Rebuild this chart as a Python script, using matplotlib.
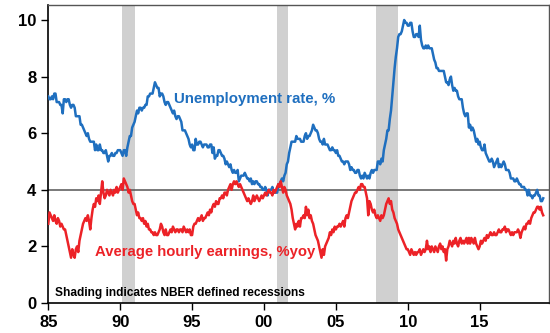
import numpy as np
import matplotlib
matplotlib.use("Agg")
import matplotlib.pyplot as plt

plt.rcParams["font.family"] = ["Liberation Sans", "DejaVu Sans"]

# ---------- DATA (monthly, Jan 1985 onwards) ----------
START_YEAR = 1985

unemployment = [
    7.3, 7.2, 7.2, 7.3, 7.2, 7.4, 7.4, 7.1, 7.1, 7.1, 7.0, 7.0,   # 1985
    6.7, 7.2, 7.2, 7.1, 7.2, 7.2, 7.0, 6.9, 7.0, 7.0, 6.9, 6.6,   # 1986
    6.6, 6.6, 6.6, 6.3, 6.3, 6.2, 6.1, 6.0, 5.9, 6.0, 5.8, 5.7,   # 1987
    5.7, 5.7, 5.7, 5.4, 5.6, 5.4, 5.4, 5.6, 5.4, 5.4, 5.3, 5.3,   # 1988
    5.4, 5.2, 5.0, 5.2, 5.2, 5.3, 5.2, 5.2, 5.3, 5.3, 5.4, 5.4,   # 1989
    5.4, 5.3, 5.2, 5.4, 5.4, 5.2, 5.5, 5.7, 5.9, 5.9, 6.2, 6.3,   # 1990
    6.4, 6.6, 6.8, 6.7, 6.9, 6.9, 6.8, 6.9, 6.9, 7.0, 7.0, 7.3,   # 1991
    7.3, 7.4, 7.4, 7.4, 7.6, 7.8, 7.7, 7.6, 7.6, 7.3, 7.4, 7.4,   # 1992
    7.3, 7.1, 7.0, 7.1, 7.1, 7.0, 6.9, 6.8, 6.7, 6.8, 6.6, 6.5,   # 1993
    6.6, 6.6, 6.5, 6.4, 6.1, 6.1, 6.1, 6.0, 5.9, 5.8, 5.6, 5.5,   # 1994
    5.6, 5.4, 5.4, 5.8, 5.6, 5.6, 5.7, 5.7, 5.6, 5.5, 5.6, 5.6,   # 1995
    5.6, 5.5, 5.5, 5.6, 5.6, 5.3, 5.5, 5.1, 5.2, 5.2, 5.4, 5.4,   # 1996
    5.3, 5.2, 5.2, 5.1, 4.9, 5.0, 4.9, 4.8, 4.9, 4.7, 4.6, 4.7,   # 1997
    4.6, 4.6, 4.7, 4.3, 4.4, 4.5, 4.5, 4.5, 4.6, 4.5, 4.4, 4.4,   # 1998
    4.3, 4.4, 4.2, 4.3, 4.2, 4.3, 4.3, 4.2, 4.2, 4.1, 4.1, 4.0,   # 1999
    4.0, 4.1, 4.0, 3.8, 4.0, 4.0, 4.0, 4.1, 3.9, 3.9, 3.9, 3.9,   # 2000
    4.2, 4.2, 4.3, 4.4, 4.3, 4.5, 4.6, 4.9, 5.0, 5.3, 5.5, 5.7,   # 2001
    5.7, 5.7, 5.7, 5.9, 5.8, 5.8, 5.8, 5.7, 5.7, 5.7, 5.9, 6.0,   # 2002
    5.8, 5.9, 5.9, 6.0, 6.1, 6.3, 6.2, 6.1, 6.1, 6.0, 5.8, 5.7,   # 2003
    5.7, 5.6, 5.8, 5.6, 5.6, 5.6, 5.5, 5.4, 5.4, 5.5, 5.4, 5.4,   # 2004
    5.3, 5.4, 5.2, 5.2, 5.1, 5.0, 5.0, 4.9, 5.0, 5.0, 5.0, 4.9,   # 2005
    4.7, 4.8, 4.7, 4.7, 4.6, 4.6, 4.7, 4.7, 4.5, 4.4, 4.5, 4.4,   # 2006
    4.6, 4.5, 4.4, 4.5, 4.4, 4.6, 4.7, 4.6, 4.7, 4.7, 4.7, 5.0,   # 2007
    5.0, 4.9, 5.1, 5.0, 5.4, 5.6, 5.8, 6.1, 6.1, 6.5, 6.8, 7.3,   # 2008
    7.8, 8.3, 8.7, 9.0, 9.4, 9.5, 9.5, 9.6, 9.8, 10.0, 9.9, 9.9,  # 2009
    9.8, 9.8, 9.9, 9.9, 9.6, 9.4, 9.4, 9.5, 9.5, 9.4, 9.8, 9.3,   # 2010
    9.1, 9.0, 9.0, 9.1, 9.0, 9.1, 9.0, 9.0, 9.0, 8.8, 8.6, 8.5,   # 2011
    8.3, 8.3, 8.2, 8.2, 8.2, 8.2, 8.2, 8.0, 7.8, 7.8, 7.7, 7.9,   # 2012
    8.0, 7.7, 7.5, 7.6, 7.5, 7.5, 7.3, 7.2, 7.2, 7.2, 6.9, 6.7,   # 2013
    6.6, 6.7, 6.7, 6.2, 6.3, 6.1, 6.2, 6.1, 5.9, 5.7, 5.8, 5.6,   # 2014
    5.7, 5.5, 5.4, 5.4, 5.6, 5.3, 5.2, 5.1, 5.0, 5.0, 5.1, 5.0,   # 2015
    4.8, 4.9, 5.0, 5.1, 4.8, 4.9, 4.8, 4.9, 5.0, 4.9, 4.7, 4.7,   # 2016
    4.7, 4.6, 4.4, 4.4, 4.4, 4.3, 4.3, 4.4, 4.3, 4.2, 4.2, 4.1,   # 2017
    4.1, 4.1, 4.0, 4.0, 3.8, 4.0, 3.8, 3.8, 3.7, 3.8, 3.8, 3.9,   # 2018
    4.0, 3.8, 3.8, 3.6, 3.6, 3.7,                                 # 2019
]

earnings_yoy = [
    2.8, 3.2, 3.1, 3.0, 2.9, 3.1, 2.9, 2.8, 3.0, 2.9, 2.7, 2.8,   # 1985
    2.7, 2.6, 2.6, 2.4, 2.2, 2.0, 1.8, 1.6, 1.9, 1.7, 1.6, 1.9,   # 1986
    2.0, 1.8, 2.2, 2.4, 2.6, 2.8, 2.9, 3.0, 2.9, 3.1, 2.9, 2.6,   # 1987
    3.0, 3.3, 3.5, 3.4, 3.7, 3.6, 3.8, 3.5, 3.9, 4.3, 3.9, 3.7,   # 1988
    3.8, 4.0, 3.9, 3.8, 4.0, 3.9, 3.8, 4.0, 3.9, 4.1, 3.9, 4.0,   # 1989
    4.1, 4.2, 4.0, 4.4, 4.3, 4.2, 4.1, 3.9, 4.0, 3.8, 3.6, 3.5,   # 1990
    3.5, 3.3, 3.1, 3.2, 3.0, 3.0, 2.9, 3.0, 2.8, 2.9, 2.7, 2.8,   # 1991
    2.6, 2.6, 2.5, 2.5, 2.4, 2.5, 2.4, 2.4, 2.5, 2.6, 2.8, 2.7,   # 1992
    2.5, 2.4, 2.6, 2.4, 2.4, 2.5, 2.6, 2.5, 2.7, 2.6, 2.5, 2.6,   # 1993
    2.6, 2.5, 2.6, 2.6, 2.5, 2.7, 2.6, 2.5, 2.6, 2.5, 2.6, 2.4,   # 1994
    2.4, 2.7, 2.8, 2.8, 2.9, 3.0, 2.9, 3.0, 3.1, 2.9, 3.0, 3.0,   # 1995
    3.1, 3.2, 3.1, 3.3, 3.2, 3.4, 3.5, 3.4, 3.6, 3.5, 3.5, 3.7,   # 1996
    3.7, 3.8, 3.7, 3.9, 3.9, 3.8, 4.0, 4.1, 4.2, 4.0, 4.2, 4.3,   # 1997
    4.2, 4.3, 4.2, 4.1, 4.2, 4.1, 4.0, 3.9, 3.8, 3.7, 3.6, 3.7,   # 1998
    3.6, 3.5, 3.6, 3.8, 3.6, 3.7, 3.8, 3.7, 3.6, 3.7, 3.8, 3.7,   # 1999
    3.8, 3.9, 3.8, 3.9, 4.0, 3.9, 3.9, 3.8, 4.0, 3.9, 4.0, 4.1,   # 2000
    4.2, 4.1, 4.3, 4.1, 3.9, 4.1, 4.0, 3.8, 3.7, 3.6, 3.5, 3.3,   # 2001
    3.0, 2.8, 2.6, 2.8, 2.7, 2.9, 2.7, 3.0, 3.0, 3.1, 3.0, 3.4,   # 2002
    3.1, 3.3, 3.0, 3.1, 2.9, 2.8, 2.6, 2.4, 2.3, 2.2, 2.0, 1.8,   # 2003
    1.6, 1.9, 1.7, 2.0, 2.1, 2.2, 2.3, 2.5, 2.4, 2.6, 2.5, 2.7,   # 2004
    2.6, 2.7, 2.7, 2.8, 2.7, 2.8, 2.9, 2.7, 3.0, 3.1, 3.0, 3.2,   # 2005
    3.4, 3.6, 3.7, 3.8, 3.9, 3.9, 4.0, 4.1, 4.0, 4.2, 4.2, 4.1,   # 2006
    4.1, 3.9, 3.7, 3.1, 3.6, 3.5, 3.3, 3.2, 3.3, 3.1, 3.0, 3.1,   # 2007
    3.0, 2.9, 3.1, 3.0, 3.1, 3.3, 3.5, 3.6, 3.7, 3.5, 3.6, 3.3,   # 2008
    3.2, 3.0, 2.9, 2.8, 2.6, 2.5, 2.4, 2.3, 2.2, 2.1, 2.0, 1.9,   # 2009
    1.9, 1.8, 1.7, 1.9, 1.8, 1.7, 1.8, 1.7, 1.8, 1.8, 1.9, 1.7,   # 2010
    1.8, 1.9, 1.8, 1.9, 2.2, 1.9, 2.0, 1.8, 2.0, 1.9, 1.8, 2.0,   # 2011
    1.9, 1.8, 2.0, 2.1, 1.9, 2.0, 1.8, 1.9, 1.5, 1.9, 2.0, 2.2,   # 2012
    2.1, 2.0, 2.2, 2.1, 2.3, 2.1, 2.0, 2.2, 2.3, 2.1, 2.2, 2.1,   # 2013
    2.2, 2.3, 2.1, 2.3, 2.1, 2.3, 2.2, 2.1, 2.3, 2.1, 2.0, 1.9,   # 2014
    2.0, 2.2, 2.1, 2.2, 2.3, 2.2, 2.4, 2.3, 2.4, 2.5, 2.4, 2.4,   # 2015
    2.5, 2.4, 2.4, 2.5, 2.6, 2.5, 2.5, 2.6, 2.6, 2.7, 2.5, 2.6,   # 2016
    2.6, 2.5, 2.4, 2.5, 2.4, 2.5, 2.5, 2.5, 2.6, 2.5, 2.3, 2.5,   # 2017
    2.6, 2.7, 2.6, 2.8, 2.8, 2.9, 2.8, 3.0, 3.1, 3.2, 3.2, 3.3,   # 2018
    3.4, 3.4, 3.3, 3.4, 3.2, 3.1,                                 # 2019
]

# shaded recession bands (start, end) in decimal years
recessions = [(1990.15, 1991.03), (2000.92, 2001.69), (2007.77, 2009.34)]

x_ticks = [1985, 1990, 1995, 2000, 2005, 2010, 2015]
x_tick_labels = ["85", "90", "95", "00", "05", "10", "15"]
y_ticks = [0, 2, 4, 6, 8, 10]

BLUE = "#1f6fbf"
RED = "#ec2227"
SHADE = "#d0d0d0"

# ---------- PLOT ----------
fig = plt.figure(figsize=(5.5, 3.33), dpi=100)
ax = fig.add_axes([48.3 / 550, 30 / 333, 500.7 / 550, 298 / 333])

t_u = START_YEAR + np.arange(len(unemployment)) / 12.0
t_e = START_YEAR + np.arange(len(earnings_yoy)) / 12.0

for a, b in recessions:
    ax.axvspan(a, b, color=SHADE, lw=0, zorder=0)

ax.axhline(4, color="#555555", lw=1.1, zorder=1)
ax.plot(t_u, unemployment, color=BLUE, lw=1.8, zorder=3)
ax.plot(t_e, earnings_yoy, color=RED, lw=1.8, zorder=3)

ax.text(1993.75, 7.2, "Unemployment rate, %", color=BLUE, fontsize=10.8,
        fontweight="bold", va="center", ha="left")
ax.text(1988.25, 1.8, "Average hourly earnings, %yoy", color=RED, fontsize=10.7,
        fontweight="bold", va="center", ha="left")
ax.text(1985.45, 0.35, "Shading indicates NBER defined recessions", color="black",
        fontsize=8.6, fontweight="bold", va="center", ha="left")

ax.set_xlim(1985, 2019.82)
ax.set_ylim(0, 10.53)
ax.set_xticks(x_ticks, x_tick_labels)
ax.set_yticks(y_ticks)
ax.tick_params(axis="both", direction="out", length=5, width=1,
               labelsize=12, colors="black")
for lab in ax.get_xticklabels() + ax.get_yticklabels():
    lab.set_fontweight("bold")

ax.spines["left"].set_linewidth(1.2)
ax.spines["bottom"].set_linewidth(1.2)
for side in ("top", "right"):
    ax.spines[side].set_color("#555555")
    ax.spines[side].set_linewidth(1.0)

fig.savefig("out.png", dpi=100)
